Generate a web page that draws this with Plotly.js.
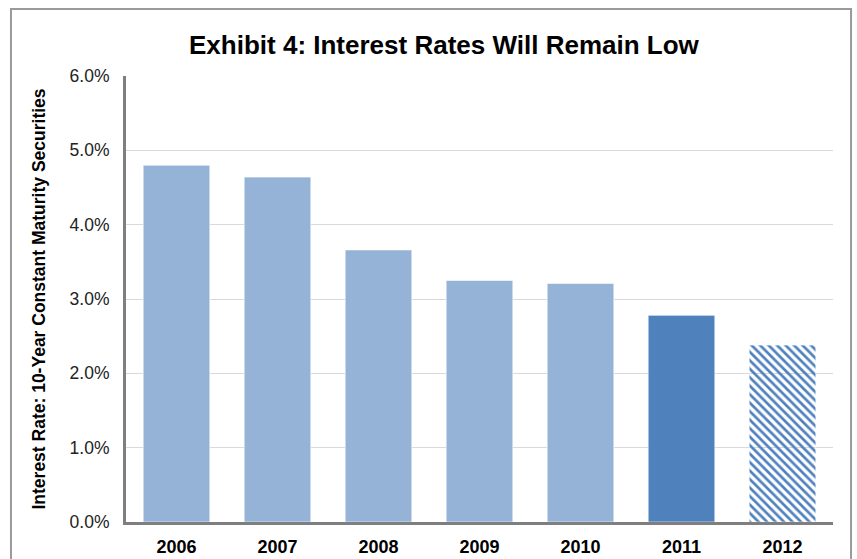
<!DOCTYPE html>
<html>
<head>
<meta charset="utf-8">
<script src="https://cdn.plot.ly/plotly-3.0.1.min.js"></script>
<style>
html,body{margin:0;padding:0;background:#fff;}
#chart{width:857px;height:559px;}
</style>
</head>
<body>
<div id="chart"></div>
<script>
const years = ["2006", "2007", "2008", "2009", "2010", "2011", "2012"];
const rates = [4.80, 4.64, 3.66, 3.25, 3.21, 2.78, 2.38];
const yTickVals = [0, 1, 2, 3, 4, 5, 6];
const yTickText = ["0.0%", "1.0%", "2.0%", "3.0%", "4.0%", "5.0%", "6.0%"];

const barColors = ["#95B3D7", "#95B3D7", "#95B3D7", "#95B3D7", "#95B3D7", "#4F81BD", "#4F81BD"];
const patternShapes = ["", "", "", "", "", "", "\\"];

const trace = {
  type: "bar",
  x: years,
  y: rates,
  marker: {
    color: barColors,
    line: {color: "rgba(255,255,255,0.6)", width: 1},
    pattern: {
      shape: patternShapes,
      bgcolor: "#FFFFFF",
      size: 6,
      solidity: 0.45,
      fillmode: "replace"
    }
  },
  hoverinfo: "x+y"
};

const FONT = "Liberation Sans, Arial, sans-serif";

const layout = {
  width: 857,
  height: 559,
  margin: {l: 126, r: 24, t: 76, b: 37},
  paper_bgcolor: "#FFFFFF",
  plot_bgcolor: "#FFFFFF",
  showlegend: false,
  bargap: 0.34,
  title: {
    text: "<b>Exhibit 4: Interest Rates Will Remain Low</b>",
    font: {family: FONT, size: 26, color: "#000000"},
    x: 0.518, xref: "container", xanchor: "center",
    y: 0.9195, yref: "container", yanchor: "middle"
  },
  xaxis: {
    type: "category",
    showgrid: false,
    showline: true,
    linecolor: "#7F7F7F",
    linewidth: 3,
    ticks: "",
    ticklabelstandoff: 6,
    tickfont: {family: FONT, size: 18, color: "#000000", weight: "bold"},
    fixedrange: true
  },
  yaxis: {
    range: [0, 6],
    tickvals: yTickVals,
    ticktext: yTickText,
    showgrid: true,
    gridcolor: "#D9D9D9",
    gridwidth: 1,
    showline: true,
    linecolor: "#7F7F7F",
    linewidth: 3,
    zeroline: false,
    ticks: "",
    ticklabelstandoff: 10,
    tickfont: {family: FONT, size: 17.5, color: "#222222"},
    title: {
      text: "<b>Interest Rate: 10-Year Constant Maturity Securities</b>",
      font: {family: FONT, size: 17.5, color: "#000000"},
      standoff: 20
    },
    fixedrange: true
  },
  shapes: [
    {
      type: "path",
      xref: "paper", yref: "paper",
      path: "M -0.1627 -0.2 L -0.1627 1.1502 L 1.0255 1.1502 L 1.0255 -0.2",
      line: {color: "#9A9A9A", width: 2},
      layer: "below"
    }
  ]
};

Plotly.newPlot("chart", [trace], layout, {displayModeBar: false, staticPlot: true});
</script>
</body>
</html>
